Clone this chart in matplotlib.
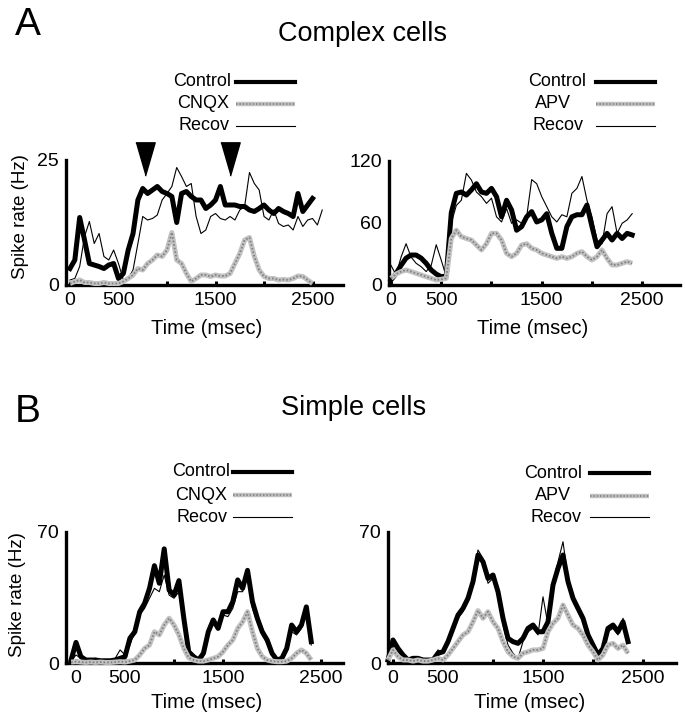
import matplotlib
matplotlib.use("Agg")
import matplotlib.pyplot as plt
from matplotlib.lines import Line2D
import numpy as np

plt.rcParams["font.family"] = ["Liberation Sans", "DejaVu Sans"]

W, H = 685, 720

# sampling times (msec) of the traces, read every 50 ms
t_complex = np.arange(0, 2650, 50)
t_simple = np.arange(-50, 2450, 50)

# A, left: complex cells, CNQX experiment (Hz)
ctrl_a1 = [3.3, 5, 13.5, 9, 4.3, 4, 3.7, 3.3, 4, 4.3,
           1.3, 2.3, 7, 10.3, 17, 19.3, 18.3, 19, 19.7, 18.7,
           18.3, 17.7, 12.5, 18.3, 18.7, 17.7, 17, 17, 15.3, 16,
           17, 19.7, 16, 16, 16, 15.7, 15.7, 15, 14.7, 15.3,
           16, 15, 14.3, 15.3, 14.7, 14.3, 13.7, 18.3, 14.7, 16,
           17.3]
cnqx_a1 = [0.3, 0.7, 1, 0.5, 0.5, 0.3, 0.3, 0.5, 0.3, 0.3,
           0.3, 0.7, 1.3, 2, 3.3, 3, 4.3, 5, 6, 5.7,
           7, 10.5, 5, 4.3, 2.3, 0.7, 1.3, 2, 2, 1.7,
           2, 1.8, 1.8, 2.3, 4.3, 6.3, 9, 9.5, 5.7, 3,
           1.7, 1.3, 1.3, 1, 1.1, 1, 1.3, 1.8, 1.7, 1,
           0.3]
recov_a1 = [1, 1.3, 3.7, 9.7, 12.7, 8.3, 10.3, 5.7, 5, 7,
            4.3, 1, 1.3, 3, 8.3, 13.7, 13, 13.3, 14, 17,
            18.3, 19.7, 23.5, 21.7, 19.7, 20.3, 13.7, 10.3, 11, 13.7,
            14.3, 13.3, 13, 13.7, 13, 15, 15.7, 22.5, 20.3, 19,
            13.7, 13, 15, 12.3, 11.7, 12, 11, 13.7, 11.7, 13,
            13.3, 12, 15]

# A, right: complex cells, APV experiment (Hz)
ctrl_a2 = [5, 11, 19, 26, 29, 29, 26, 21, 14.5, 10.6,
           8, 8.7, 70, 88.7, 90, 87, 92, 98, 90, 88.7,
           93.5, 85.5, 66, 82, 72.6, 53, 56.5, 66, 71, 61,
           63, 69, 50, 35.5, 35.5, 56.5, 66, 68, 68, 77.4,
           56.5, 37, 43.5, 50, 43.5, 50, 45, 50, 48.4]
apv_a2 = [6.5, 10.6, 13, 14.5, 13, 11.3, 9.7, 8, 6.5, 4.8,
          5.5, 6.5, 45, 53, 46.8, 45, 43.5, 38.7, 33.9, 40,
          50, 50, 43.5, 30.6, 27.4, 30.6, 38.7, 40, 35.5, 33.9,
          30.6, 29, 27.4, 25.8, 27.4, 25.8, 27.4, 30.6, 32.3, 27.4,
          24.2, 27.4, 33.9, 25.8, 19.4, 19.4, 21, 22.6, 21]
recov_a2 = [19, 9.7, 27, 40, 27, 21, 17.7, 13, 19, 39,
            24, 8, 60, 77, 82, 108, 101.6, 90, 85.5, 79,
            84, 66, 61, 74, 59.7, 63, 59.7, 66, 102, 98,
            85.5, 75.8, 66, 61, 68, 66, 88.7, 93.5, 105, 82,
            66, 43.5, 40, 69, 75.8, 50, 59.7, 63, 69]

# B, left: simple cells, CNQX experiment (Hz)
ctrl_b1 = [1.6,
           11, 3.4, 1.6, 1.6, 1.6, 1.2, 1.2, 1.2, 1.6, 2.5,
           3.4, 13.2, 16.7, 27.4, 31.9, 39.9, 52, 42.6, 61, 39,
           36.3, 44, 23.9, 6, 3.4, 1.6, 5.2, 16.7, 23, 18.5,
           27.4, 27.4, 32.8, 44.4, 39.9, 49.5, 32.8, 23.9, 16.7, 12.3,
           5.2, 1.6, 2.5, 7.8, 20.3, 16.7, 20.3, 30, 11.4]
cnqx_b1 = [0.5,
           0.7, 0.5, 0.3, 0.5, 0.3, 0.5, 0.3, 0.3, 0.5, 0.7,
           0.5, 1, 1.6, 4.3, 7.8, 9.6, 16.7, 15, 20.3, 23.9,
           20.3, 15, 7.8, 2.8, 1.6, 1, 1, 1.6, 2.5, 3.4,
           6, 9.6, 12.3, 18.5, 22, 27.4, 16.7, 7.8, 3.4, 1.6,
           1, 0.7, 0.7, 1, 2.5, 5.2, 7, 5.2, 1.6]
recov_b1 = [1,
            4.3, 2.5, 2.5, 1, 2.5, 1.6, 1, 1.6, 2.5, 7,
            4.3, 9.6, 16.7, 25.6, 29.2, 34.6, 39.9, 38.1, 47, 36.3,
            34.6, 38.1, 22, 7, 4.3, 0.7, 3.4, 15, 22, 20.3,
            25.6, 24.8, 29.2, 38.1, 38.1, 48, 29.2, 22, 15, 10.5,
            4.3, 1, 1.6, 6, 16.7, 15, 18.5, 27.4, 9.6]

# B, right: simple cells, APV experiment (Hz)
ctrl_b2 = [1.6,
           12.3, 7.8, 4.3, 1.6, 2.5, 2.5, 1.6, 1.6, 1.6, 5.2,
           6, 11.4, 18.5, 25.6, 29.2, 34.6, 43.5, 57.7, 54.1, 45.2,
           47, 38.1, 23.9, 13.2, 11.4, 10.5, 13.2, 18.5, 20.3, 16.7,
           16.7, 22, 41.7, 50.6, 57.7, 43.5, 34.6, 29.2, 23.9, 15,
           9.6, 4.3, 7.8, 18.5, 20.3, 16.7, 22, 11.4]
apv_b2 = [1.6,
          7, 3.4, 1.6, 1.6, 1, 1.6, 1, 1, 1.6, 2.5,
          1.6, 4.3, 7.8, 11.4, 15, 16.7, 22, 28, 23.9, 27.4,
          22, 18.5, 11.4, 6, 3.4, 2.5, 5.2, 6, 7, 7,
          7.8, 16.7, 21.2, 23.9, 31, 25.6, 20.3, 18.5, 15, 9.6,
          6, 1.6, 4.3, 9.6, 10.5, 7.8, 9.6, 5.2]
recov_b2 = [0.7,
            10.5, 6, 3.4, 1.6, 2.8, 2.5, 2.5, 1.6, 2.5, 7,
            5.2, 10.5, 16.7, 23.9, 27.4, 32.8, 45.2, 60.4, 55.9, 42.6,
            45.2, 35.4, 20.3, 9.6, 5.2, 2.5, 11.4, 16.7, 18.5, 15,
            35.4, 20.3, 43.5, 54.1, 64.8, 45.2, 32.8, 27.4, 22, 13.2,
            7.8, 3.4, 7, 16.7, 18.5, 15, 23.9, 13.2]

# arrowheads over panel A left (msec, Hz)
arrow_times = [773, 1650]
arrow_level = [25.1, 25.1]

GRAY = "#c2c2c2"
GRAY_DOT = "#808080"


def fig_box(left, right, top, bottom):
    return [left / W, 1 - bottom / H, (right - left) / W, (bottom - top) / H]


def stipple(ax, x, y, **kw):
    ax.plot(x, y, color=GRAY, lw=3.6, solid_capstyle="butt", **kw)
    ax.plot(x, y, color=GRAY_DOT, lw=1.3, ls=(0, (0.9, 1.1)), **kw)


def draw_panel(ax, t, ctrl, drug, recov, xlim, ylim, yticks):
    ax.plot(t[:len(ctrl)], ctrl, color="black", lw=3.6, clip_on=False, zorder=3)
    ax.plot(t[:len(recov)], recov, color="black", lw=0.8, clip_on=False, zorder=4)
    stipple(ax, t[:len(drug)], drug, clip_on=False, zorder=5)
    ax.set_xlim(*xlim)
    ax.set_ylim(*ylim)
    ax.set_yticks(yticks)
    ax.set_xticks([0, 500, 1500, 2500])
    ax.set_xticks([1000, 2000], minor=True)
    for side in ("top", "right"):
        ax.spines[side].set_visible(False)
    for side in ("left", "bottom"):
        ax.spines[side].set_linewidth(2.4)
    ax.tick_params(axis="x", which="both", direction="in", length=3, width=2.2,
                   labelsize=14, pad=5)
    ax.tick_params(axis="y", length=0, labelsize=14, pad=5)


def draw_key(fig, rows, y_rows, x_text, ha, x0, x1):
    for (label, style), y, xt in zip(rows, y_rows, x_text):
        fy = 1 - y / H
        fig.text(xt / W, fy, label, fontsize=13, ha=ha, va="center")
        xs = [x0 / W, x1 / W]
        if style == "ctrl":
            fig.add_artist(Line2D(xs, [fy, fy], color="black", lw=3.0))
        elif style == "drug":
            fig.add_artist(Line2D(xs, [fy, fy], color=GRAY, lw=3.2, solid_capstyle="butt"))
            fig.add_artist(Line2D(xs, [fy, fy], color=GRAY_DOT, lw=1.2, ls=(0, (0.9, 1.1))))
        else:
            fig.add_artist(Line2D(xs, [fy, fy], color="black", lw=0.8))


fig = plt.figure(figsize=(W / 100, H / 100), dpi=100)

ax1 = fig.add_axes(fig_box(66, 343, 160, 285))
draw_panel(ax1, t_complex, ctrl_a1, cnqx_a1, recov_a1, (-41, 2814), (0, 25), [0, 25])
tri = [(-0.29, 0.5), (0.29, 0.5), (0, -0.5)]
ax1.plot(arrow_times, arrow_level, ls="none", marker=tri, ms=24, color="black",
         clip_on=False, zorder=6)

ax2 = fig.add_axes(fig_box(389, 680, 161, 285))
draw_panel(ax2, t_complex, ctrl_a2, apv_a2, recov_a2, (-20, 2876), (0, 120), [0, 60, 120])

ax3 = fig.add_axes(fig_box(66, 343, 532, 663))
draw_panel(ax3, t_simple, ctrl_b1, cnqx_b1, recov_b1, (-102, 2724), (0, 70), [0, 70])

ax4 = fig.add_axes(fig_box(388, 676, 532, 663))
draw_panel(ax4, t_simple, ctrl_b2, apv_b2, recov_b2, (-50, 2830), (0, 70), [0, 70])

# panel letters and titles
fig.text(28 / W, 1 - 25 / H, "A", fontsize=28, ha="center", va="center")
fig.text(363 / W, 1 - 34 / H, "Complex cells", fontsize=19.5, ha="center", va="center")
fig.text(28 / W, 1 - 412 / H, "B", fontsize=28, ha="center", va="center")
fig.text(354 / W, 1 - 408 / H, "Simple cells", fontsize=19.5, ha="center", va="center")

# axis labels
for x, y in [(207, 329), (533, 329), (207, 702), (530, 702)]:
    fig.text(x / W, 1 - y / H, "Time (msec)", fontsize=14.5, ha="center", va="center")
for x, y in [(21, 217), (18, 595)]:
    fig.text(x / W, 1 - y / H, "Spike rate (Hz)", fontsize=13.5, rotation=90,
             ha="center", va="center")

# keys
draw_key(fig, [("Control", "ctrl"), ("CNQX", "drug"), ("Recov", "recov")],
         [82, 104, 126], [231, 229, 229], "right", 236, 295)
draw_key(fig, [("Control", "ctrl"), ("APV", "drug"), ("Recov", "recov")],
         [82, 104, 126], [528, 535, 533], "left", 596, 655)
draw_key(fig, [("Control", "ctrl"), ("CNQX", "drug"), ("Recov", "recov")],
         [472, 495, 517], [230, 227, 228], "right", 233, 292)
draw_key(fig, [("Control", "ctrl"), ("APV", "drug"), ("Recov", "recov")],
         [473, 496, 517], [524, 535, 530], "left", 590, 649)

fig.savefig("out.png", dpi=100)
